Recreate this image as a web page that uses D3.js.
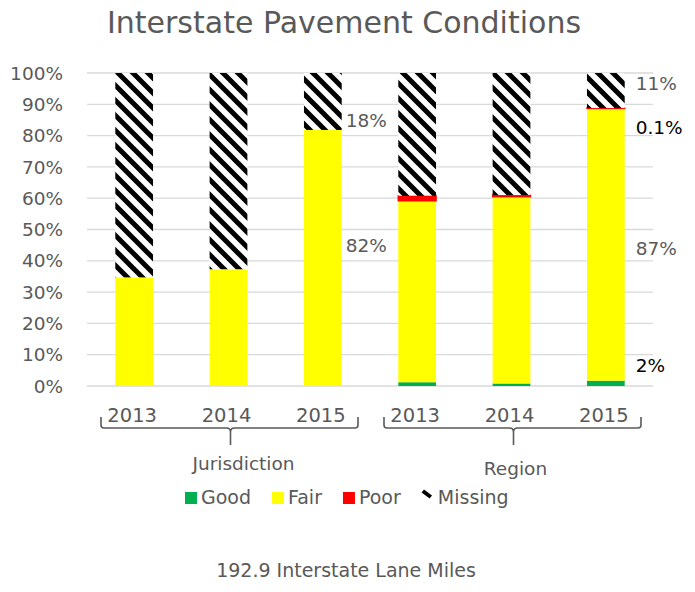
<!DOCTYPE html>
<html>
<head>
<meta charset="utf-8">
<script src="https://cdn.jsdelivr.net/npm/d3@7"></script>
<style>
  body { margin: 0; background: #fff; }
  text { font-family: "DejaVu Sans", sans-serif; fill: #595959; }
</style>
</head>
<body>
<div id="chart"></div>
<script>

//Chart data (shares of lane miles).
var groups = ["Jurisdiction", "Region"];
var years = ["2013", "2014", "2015"];
var seriesNames = ["Good", "Fair", "Poor", "Missing"];
var good    = [0, 0, 0, 0.012, 0.008, 0.017];
var fair    = [0.347, 0.373, 0.818, 0.580, 0.597, 0.870];
var poor    = [0, 0, 0, 0.016, 0.005, 0.001];
var missing = [0.653, 0.627, 0.182, 0.392, 0.390, 0.112];
var yTicks = [0, 0.1, 0.2, 0.3, 0.4, 0.5, 0.6, 0.7, 0.8, 0.9, 1];

//Data labels shown on the 2015 bars: bar index, text, where on the axis it sits.
var labels = [
    { bar: 2, text: "18%", at: 0.85, dark: false },
    { bar: 2, text: "82%", at: 0.45, dark: false },
    { bar: 5, text: "11%", at: 0.968, dark: false },
    { bar: 5, text: "0.1%", at: 0.827, dark: true },
    { bar: 5, text: "87%", at: 0.44, dark: false },
    { bar: 5, text: "2%", at: 0.067, dark: true }
];

var colors = { Good: "#00B050", Fair: "#FFFF00", Poor: "#FF0000", Missing: "url(#stripes)" };

//Builds one row per bar for d3.stack.
var rows = [];
groups.forEach(function(g, gi) {
    years.forEach(function(y, yi) {
        var i = gi * years.length + yi;
        rows.push({ key: g + " " + y, group: g, year: y,
            Good: good[i], Fair: fair[i], Poor: poor[i], Missing: missing[i] });
    });
});

var width = 695, height = 592;
var plotLeft = 87, plotRight = 653, plotTop = 73, plotBottom = 386;

var svg = d3.select("#chart").append("svg")
    .attr("width", width)
    .attr("height", height);

//Black and white "wide downward diagonal" fill for the Missing series.
var pattern = svg.append("defs").append("pattern")
    .attr("id", "stripes")
    .attr("patternUnits", "userSpaceOnUse")
    .attr("width", 15)
    .attr("height", 15);
pattern.append("rect").attr("width", 15).attr("height", 15).attr("fill", "#fff");
pattern.append("path")
    .attr("d", "M-5,-5L20,20M10,-5L20,5M-5,10L5,20")
    .attr("stroke", "#000")
    .attr("stroke-width", 5);

var x = d3.scaleBand()
    .domain(rows.map(function(d) { return d.key; }))
    .range([plotLeft, plotRight])
    .paddingInner(0.6)
    .paddingOuter(0.3);

var y = d3.scaleLinear()
    .domain([0, 1])
    .range([plotBottom, plotTop]);

//Title.
svg.append("text")
    .attr("x", 344)
    .attr("y", 33)
    .attr("text-anchor", "middle")
    .style("font-size", "30px")
    .text("Interstate Pavement Conditions");

//Gridlines.
svg.append("g").selectAll("line")
    .data(yTicks)
    .enter().append("line")
    .attr("x1", plotLeft)
    .attr("x2", plotRight)
    .attr("y1", function(d) { return y(d); })
    .attr("y2", function(d) { return y(d); })
    .attr("stroke", "#D9D9D9")
    .attr("stroke-width", 1.3);

//Y axis labels.
svg.append("g").selectAll("text")
    .data(yTicks)
    .enter().append("text")
    .attr("x", 63)
    .attr("y", function(d) { return y(d); })
    .attr("dy", "0.36em")
    .attr("text-anchor", "end")
    .style("font-size", "18.5px")
    .text(d3.format(".0%"));

//Stacked bars.
var stack = d3.stack().keys(seriesNames);
var layers = svg.append("g").selectAll("g")
    .data(stack(rows))
    .enter().append("g")
    .attr("fill", function(d) { return colors[d.key]; });

layers.selectAll("rect")
    .data(function(d) {
        return d.filter(function(p) { return p[1] - p[0] > 0; })
            .map(function(p) { p.series = d.key; return p; });
    })
    .enter().append("rect")
    .attr("x", function(d) { return x(d.data.key); })
    .attr("width", x.bandwidth())
    .attr("y", function(d) { return y(d[1]); })
    .attr("height", function(d) { return y(d[0]) - y(d[1]); })
    .attr("stroke", function(d) { return d.series == "Poor" ? "#FF0000" : "none"; })
    .attr("stroke-width", 1.5);

//Data labels next to the 2015 bars.
svg.append("g").selectAll("text")
    .data(labels)
    .enter().append("text")
    .attr("x", function(d) { return x(rows[d.bar].key) + x.bandwidth() + (d.bar < 3 ? 4 : 11); })
    .attr("y", function(d) { return y(d.at); })
    .attr("dy", "0.36em")
    .style("font-size", "18.5px")
    .style("fill", function(d) { return d.dark ? "#000" : "#595959"; })
    .text(function(d) { return d.text; });

//Year labels under each bar.
svg.append("g").selectAll("text")
    .data(rows)
    .enter().append("text")
    .attr("x", function(d) { return x(d.key) + x.bandwidth() / 2 - 2; })
    .attr("y", 422)
    .attr("text-anchor", "middle")
    .style("font-size", "19.5px")
    .text(function(d) { return d.year; });

//Group brackets and group names.
var step = x.step();
var nameShift = [13, 2], nameY = [470, 475];
groups.forEach(function(g, gi) {
    var x0 = plotLeft + gi * step * years.length + 14;
    var x1 = x0 + step * years.length - 26;
    var cx = (x0 + x1) / 2 + 1;
    var yTop = 417, yLine = 428, yTip = 445;

    svg.append("path")
        .attr("d", "M" + x0 + "," + yTop + "V" + (yLine - 3) + "Q" + x0 + "," + yLine + " " + (x0 + 3) + "," + yLine +
            "H" + (cx - 4) + "Q" + cx + "," + yLine + " " + cx + "," + (yLine + 4) + "V" + yTip +
            "M" + cx + "," + (yLine + 4) + "Q" + cx + "," + yLine + " " + (cx + 4) + "," + yLine +
            "H" + (x1 - 3) + "Q" + x1 + "," + yLine + " " + x1 + "," + (yLine - 3) + "V" + yTop)
        .attr("fill", "none")
        .attr("stroke", "#595959")
        .attr("stroke-width", 1.6);

    svg.append("text")
        .attr("x", cx + nameShift[gi])
        .attr("y", nameY[gi])
        .attr("text-anchor", "middle")
        .style("font-size", "18.5px")
        .text(g);
});

//Legend.
var legend = svg.append("g");
var lx = 185;
seriesNames.forEach(function(s) {
    if (s == "Missing") {
        legend.append("path")
            .attr("d", "M" + (lx + 1) + ",491L" + (lx + 9) + ",497")
            .attr("stroke", "#000")
            .attr("stroke-width", 4);
    } else {
        legend.append("rect")
            .attr("x", lx)
            .attr("y", 492)
            .attr("width", 12)
            .attr("height", 12)
            .attr("fill", colors[s]);
    }
    var t = legend.append("text")
        .attr("x", lx + 16)
        .attr("y", 504)
        .style("font-size", "19px")
        .text(s);
    lx += 16 + t.node().getComputedTextLength() + 21;
});

//Footer note.
svg.append("text")
    .attr("x", 346)
    .attr("y", 577)
    .attr("text-anchor", "middle")
    .style("font-size", "19px")
    .text("192.9 Interstate Lane Miles");

</script>
</body>
</html>
